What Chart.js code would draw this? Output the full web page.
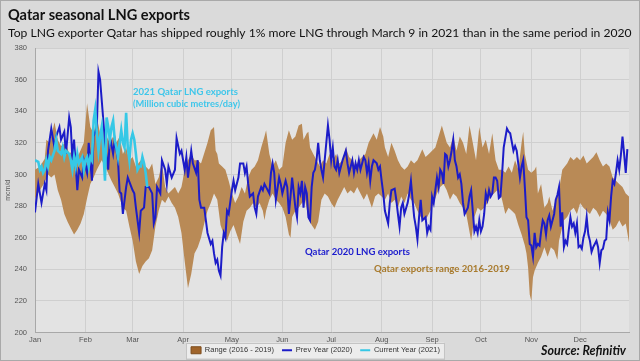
<!DOCTYPE html>
<html>
<head>
<meta charset="utf-8">
<script src="https://cdn.jsdelivr.net/npm/chart.js@4.4.0/dist/chart.umd.min.js"></script>
<style>
html, body { margin: 0; padding: 0; background: #dadada; }
canvas { display: block; }
</style>
</head>
<body>
<canvas id="myChart" width="640" height="361"></canvas>
<script>
// Qatar seasonal LNG exports, mcm/d, x = day of year (2020 calendar)

var months = ['Jan', 'Feb', 'Mar', 'Apr', 'May', 'Jun', 'Jul', 'Aug', 'Sep', 'Oct', 'Nov', 'Dec']
var monthStartDays = [0, 31, 60, 91, 121, 152, 182, 213, 244, 274, 305, 335]

// range 2016-2019, upper edge
var rangeHighDays = [0,3,6,7,9,12,14,16,19,21,23,25,27,30,32,34,36,38,40,42,44,46,48,50,52,54,56,58,60,62,65,68,
  70,72,74,76,78,80,82,84,86,88,90,92,94,96,98,100,102,106,108,110,111,112,113,115,117,119,121,123,125,127,129,131,133,135,137,139,141,
  142,144,146,148,150,152,154,156,158,160,162,164,165,167,168,169,171,173,175,177,179,181,183,185,187,189,191,193,195,197,199,201,203,205,208,210,212,214,
  215,217,219,221,223,225,227,229,231,233,235,238,240,242,244,246,248,250,253,255,257,259,261,263,265,267,269,271,273,275,277,279,281,283,285,
  287,289,291,293,295,297,299,300,301,303,305,307,308,309,311,313,315,316,318,320,322,324,327,329,331,333,335,337,339,341,343,345,347,349,351,353,355,357,359,361,363,365]
var rangeHigh = [303,305,310,322,320,333,322,318,320,313,315,309,313,320,345,330,326,336,326,330,324,320,324,320,324,313,317,309,311,305,309,305,
  303,307,294,298,307,292,288,290,292,288,292,303,309,313,309,309,307,320,328,330,315,313,307,305,303,296,288,282,286,292,288,298,303,305,309,317,324,
  328,313,305,309,303,305,320,328,322,324,331,332,322,326,327,317,313,309,305,309,307,313,309,313,307,309,317,311,309,305,309,311,313,320,326,322,330,324,
  317,311,320,315,309,305,303,305,309,307,309,316,311,313,315,317,324,331,320,317,324,315,324,320,313,331,320,309,330,317,322,313,326,309,303,
  303,301,305,301,309,303,320,327,313,303,301,303,305,288,294,279,282,286,277,284,290,303,307,311,309,311,309,312,307,309,311,314,309,305,307,305,298,296,294,292,288,286]

// range 2016-2019, lower edge
var rangeLowDays = [0,3,6,8,10,12,14,16,18,20,22,24,26,28,30,32,34,36,38,41,44,47,49,51,54,56,58,60,62,64,66,68,
  70,72,74,76,78,80,82,84,86,88,90,92,94,96,98,100,102,104,106,108,110,112,114,116,118,120,122,124,126,128,130,132,134,136,138,140,141,
  142,144,146,148,150,152,154,156,157,158,160,162,164,166,168,170,172,174,176,178,180,182,184,186,188,190,192,194,196,198,200,202,204,207,209,211,213,
  215,217,219,221,223,225,227,229,231,233,235,237,239,241,243,245,247,249,251,253,255,257,259,261,263,265,268,270,272,274,276,278,280,282,284,286,
  287,289,291,293,295,297,299,301,302,303,304,305,306,307,309,311,313,315,317,319,321,322,325,327,329,331,333,335,337,339,341,343,345,347,349,351,353,355,357,359,361,363,365]
var rangeLow = [285,290,295,300,298,300,290,284,275,270,266,262,265,269,275,285,294,298,303,309,303,296,292,288,279,277,267,258,245,237,242,245,
  247,252,267,277,284,282,286,282,279,273,263,245,228,237,250,254,260,269,277,282,288,284,268,262,258,264,268,262,256,270,277,279,282,279,282,277,271,
  277,284,288,284,282,279,273,262,260,273,277,279,282,284,272,268,265,270,284,288,286,282,279,284,288,292,288,290,288,292,288,284,288,279,286,288,286,
  284,288,282,284,279,286,282,288,284,282,277,273,271,273,277,282,288,292,294,290,284,288,286,282,279,275,258,273,279,277,279,282,286,288,290,288,
  284,275,279,277,275,268,262,255,250,241,224,220,235,239,244,248,254,248,254,252,246,258,271,273,277,279,275,282,279,277,275,279,277,273,277,275,271,265,267,271,267,269,257]

// previous year (2020)
var prevYearDays = [0,2,4,6,7,8,10,12,13,15,16,18,19,21,22,23,24,26,27,29,30,32,33,35,36,38,39,40,42,43,45,46,48,49,51,52,53,54,56,57,60,61,62,64,65,67,68,
  70,72,73,74,75,77,78,80,81,82,84,86,87,89,90,92,93,94,96,97,99,100,101,102,104,105,106,108,109,110,111,112,113,114,115,116,117,118,119,121,122,123,125,126,128,129,130,131,132,134,135,136,137,139,140,141,
  142,144,145,146,147,148,150,151,152,154,155,156,157,158,160,161,162,163,164,165,166,167,168,169,170,171,172,173,174,175,176,177,178,179,180,181,182,183,184,185,186,187,188,189,
  191,192,193,194,195,196,197,198,199,200,201,202,203,204,205,206,207,208,210,211,212,213,214,215,216,
  217,218,219,221,222,223,224,225,226,227,229,230,231,232,233,234,235,236,237,238,239,240,241,242,243,244,245,246,247,248,249,250,251,252,253,254,255,256,257,258,259,260,261,262,263,264,266,267,268,269,270,
  271,272,273,274,275,276,277,278,279,280,281,282,283,284,285,286,287,288,290,291,292,294,295,296,298,299,300,301,302,303,304,305,306,307,308,309,310,311,312,313,314,315,316,317,319,320,321,322,323,324,
  325,326,327,328,329,330,331,332,333,334,335,336,337,338,339,340,341,342,343,344,345,346,347,348,349,350,351,352,353,354,355,356,357,358,359,360,361,362,363,364]
var prevYear = [276,294,282,294,290,315,329,317,324,330,322,327,313,336,330,309,322,290,303,298,309,301,320,296,324,330,365,360,334,320,303,324,313,322,309,289,288,275,292,298,290,288,279,263,277,279,292,
  292,288,269,273,292,288,309,303,294,305,298,303,323,313,315,303,311,298,315,307,301,309,284,279,279,271,263,256,258,250,244,246,239,236,254,263,260,277,275,290,296,290,298,307,307,301,305,294,286,288,279,275,286,292,290,294,
  292,288,301,307,301,284,298,294,288,296,292,275,286,298,279,273,292,288,296,279,292,288,273,271,292,301,303,309,320,309,303,298,309,320,331,322,309,317,305,303,309,301,305,309,
  315,307,301,305,309,301,307,303,309,303,307,311,309,301,307,296,305,309,307,303,305,296,288,277,273,
  269,282,290,291,284,275,267,279,282,275,282,288,296,284,273,267,259,273,284,271,272,273,263,267,265,286,282,290,298,292,303,301,294,313,312,305,309,315,322,309,305,298,300,294,282,275,279,286,290,277,264,
  267,263,271,264,267,275,288,284,290,286,288,298,298,296,285,286,300,317,329,327,326,315,318,315,298,305,309,292,273,271,256,255,248,263,254,256,255,264,271,269,262,271,274,267,275,284,287,292,267,276,
  254,258,256,265,273,267,269,263,269,254,255,253,260,264,273,262,258,251,254,256,258,254,244,252,253,258,259,276,271,286,296,294,301,309,303,312,324,313,301,316]

// current year (2021), through March 9
var currentYearDays = [0,2,3,4,5,6,7,8,9,10,12,13,14,16,17,18,19,21,22,23,24,25,26,27,29,30,31,32,33,34,35,36,37,38,39,40,41,42,43,44,45,46,47,48,49,50,51,52,53,54,55,56,57,58,59,60,61,62,63,64,65,66,67,68,69]
var currentYear = [309,308,303,305,301,303,309,305,311,309,315,322,315,313,317,311,315,313,309,303,311,305,313,307,311,303,309,311,305,311,309,334,341,326,315,324,330,315,296,336,330,322,330,334,322,317,311,320,328,320,317,339,317,309,322,326,322,313,303,305,305,311,307,301,292]

var BLUE = '#1c1cc8'
var CYAN = '#36c8e6'
var BAND = '#b98a56'

function toPoints(days, values) {
    return days.map((d, i) => ({ x: d, y: values[i] }))
}

var tickFont = { family: "'Liberation Sans', Arial, sans-serif", size: 7.5 }

function fitFont(ctx, text, width, weight, family) {
    ctx.font = weight + ' 20px ' + family
    var size = 20 * width / ctx.measureText(text).width
    return weight + ' ' + size.toFixed(2) + 'px ' + family
}

function drawText(ctx, text, x, y, width, weight, family, color, align) {
    ctx.font = fitFont(ctx, text, width, weight, family)
    ctx.fillStyle = color
    ctx.textAlign = align || 'left'
    ctx.textBaseline = 'middle'
    ctx.fillText(text, x, y)
}

var decor = {
    id: 'decor',
    afterLayout(chart) {
        // pull the legend up so it sits just under the month labels
        var lg = chart.legend
        lg.top -= 6
        lg.bottom -= 6
    },
    beforeDraw(chart) {
        var ctx = chart.ctx, a = chart.chartArea
        ctx.save()
        ctx.fillStyle = '#dadada'
        ctx.fillRect(0, 0, chart.width, chart.height)
        ctx.strokeStyle = '#a9a9a9'
        ctx.lineWidth = 1
        ctx.strokeRect(0.5, 0.5, chart.width - 1, chart.height - 1)
        ctx.fillStyle = '#e3e3e3'
        ctx.fillRect(a.left, a.top, a.right - a.left, a.bottom - a.top)
        // legend frame
        var boxes = chart.legend.legendHitBoxes
        if (boxes && boxes.length) {
            var l = Math.min(...boxes.map(b => b.left)) - 5
            var r = Math.max(...boxes.map(b => b.left + b.width)) + 4
            var t = boxes[0].top - 4
            var h = boxes[0].height + 8
            ctx.fillStyle = '#ececec'
            ctx.fillRect(l, t, r - l, h)
            ctx.strokeStyle = '#c4c4c4'
            ctx.strokeRect(Math.round(l) + 0.5, Math.round(t) + 0.5, Math.round(r - l), Math.round(h))
        }
        ctx.restore()
    },
    afterDraw(chart) {
        var ctx = chart.ctx
        ctx.save()
        var fam = "Lato, 'Open Sans', sans-serif"
        drawText(ctx, 'Qatar seasonal LNG exports', 8, 15, 182, 'bold', fam, '#111')
        drawText(ctx, 'Top LNG exporter Qatar has shipped roughly 1% more LNG through March 9 in 2021 than in the same period in 2020', 8, 33, 624, 'normal', fam, '#111')
        drawText(ctx, '2021 Qatar LNG exports', 133, 92, 105, 'bold', fam, '#3ec6ea')
        drawText(ctx, '(Million cubic metres/day)', 133, 104, 107, 'bold', fam, '#3ec6ea')
        drawText(ctx, 'Qatar 2020 LNG exports', 305, 252, 105, 'bold', fam, '#1a1acd')
        drawText(ctx, 'Qatar exports range 2016-2019', 374, 269, 136, 'bold', fam, '#a87a2c')
        drawText(ctx, 'Source: Refinitiv', 626, 351, 85, 'italic bold', fam, '#111', 'right')
        ctx.restore()
    }
}

var ctx = document.getElementById('myChart')

var myChart = new Chart(ctx, {
    type: 'line',
    data: {
        datasets: [{
            label: 'Range (2016 - 2019)',
            data: toPoints(rangeHighDays, rangeHigh),
            backgroundColor: BAND,
            borderColor: 'rgba(0,0,0,0)',
            borderWidth: 0,
            pointRadius: 0,
            pointStyle: 'rect',
            fill: 3,
            order: 2
        }, {
            label: 'Prev Year (2020)',
            data: toPoints(prevYearDays, prevYear),
            borderColor: BLUE,
            backgroundColor: BLUE,
            borderWidth: 2,
            pointRadius: 0,
            pointStyle: 'line',
            fill: false,
            order: 1
        }, {
            label: 'Current Year (2021)',
            data: toPoints(currentYearDays, currentYear),
            borderColor: CYAN,
            backgroundColor: CYAN,
            borderWidth: 2.6,
            pointRadius: 0,
            pointStyle: 'line',
            fill: false,
            order: 0
        }, {
            label: 'range low',
            data: toPoints(rangeLowDays, rangeLow),
            borderColor: 'rgba(0,0,0,0)',
            borderWidth: 0,
            pointRadius: 0,
            fill: false,
            order: 3
        }]
    },
    options: {
        responsive: false,
        animation: false,
        layout: { padding: { top: 48, left: 2, right: 11, bottom: -9 } },
        plugins: {
            tooltip: { enabled: false },
            legend: {
                position: 'bottom',
                labels: {
                    usePointStyle: true,
                    pointStyleWidth: 10,
                    boxHeight: 7,
                    padding: 8,
                    color: '#333',
                    font: tickFont,
                    filter: item => item.datasetIndex !== 3,
                    sort: (a, b) => a.datasetIndex - b.datasetIndex,
                    generateLabels: chart => {
                        var items = Chart.defaults.plugins.legend.labels.generateLabels(chart)
                        items.forEach(it => {
                            if (it.datasetIndex === 0) {
                                it.fillStyle = '#a0642a'
                                it.strokeStyle = '#7d4c1c'
                                it.lineWidth = 1
                            } else {
                                it.lineWidth = 1.8
                            }
                        })
                        return items
                    }
                }
            }
        },
        scales: {
            x: {
                type: 'linear',
                min: 0,
                max: 365,
                afterBuildTicks: scale => {
                    scale.ticks = monthStartDays.map(v => ({ value: v }))
                },
                afterFit: scale => { scale.height = 12 },
                ticks: {
                    autoSkip: false,
                    maxRotation: 0,
                    padding: 3,
                    color: '#555',
                    font: tickFont,
                    callback: v => months[monthStartDays.indexOf(v)]
                },
                grid: { color: '#cfcfcf', drawTicks: false },
                border: { color: '#a8a8a8' }
            },
            y: {
                min: 200,
                max: 380,
                afterFit: scale => { scale.width = 33 },
                ticks: { stepSize: 20, padding: 8, color: '#555', font: tickFont },
                grid: { color: '#cfcfcf', drawTicks: false },
                border: { color: '#a8a8a8' },
                title: {
                    display: true,
                    text: 'mcm/d',
                    color: '#555',
                    padding: 2,
                    font: { family: "'Liberation Sans', sans-serif", size: 7 }
                }
            }
        }
    },
    plugins: [decor]
})
</script>
</body>
</html>
